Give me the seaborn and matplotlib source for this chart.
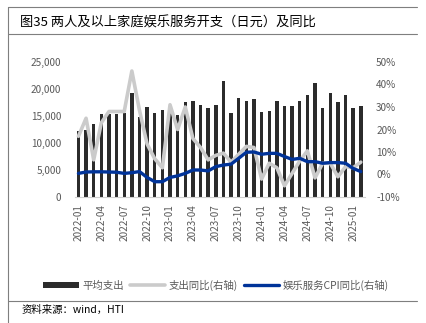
import numpy as np
import pandas as pd
import matplotlib
matplotlib.use("Agg")
import matplotlib.pyplot as plt
import seaborn as sns
from matplotlib.lines import Line2D
from matplotlib.patches import Patch

months = [f"{y}-{m:02d}" for y in (2022, 2023, 2024) for m in range(1, 13)] + ["2025-01", "2025-02"]

spend = [12250, 12500, 13480, 15330, 15450, 15450, 15580, 19270, 14840, 16690,
         15640, 16070, 16000, 15200, 17530, 17780, 17040, 16450, 17040, 21400,
         15620, 18270, 17780, 18090, 15800, 15990, 17780, 16910, 16910, 17780,
         18890, 21050, 16420, 19320, 17650, 18890, 16420, 16910]

spend_yoy = [17, 25, 6.5, 23, 28, 28, 28, 46, 28.5, 13.5,
             7, 3, 31, 20, 30, 16, 12, 6.5, 8.5, 9.5,
             5.5, 9, 12.5, 12, -2, 5, 3, -5, 0.5, 6,
             10.5, -1.5, 5, 5, -1, 3.5, 3, 5.5]

cpi_yoy = [0.5, 1.1, 1.2, 1.2, 1.1, 1.0, 0.5, 0.8, 1.3, -1.3,
           -3.2, -3.2, -1.3, -0.6, 0.5, 2.0, 2.0, 1.6, 3.5, 4.2,
           4.6, 7.2, 9.9, 10.0, 9.0, 9.4, 9.4, 8.0, 6.7, 7.2,
           5.7, 5.7, 5.0, 5.3, 5.3, 5.0, 2.7, 1.3]

legend_labels = ["平均支出", "支出同比(右轴)", "娱乐服务CPI同比(右轴)"]
title = "图35 两人及以上家庭娱乐服务开支（日元）及同比"
source = "资料来源：wind，HTI"

sns.set_theme(style="white")
plt.rcParams["font.family"] = ["Noto Sans CJK SC", "DejaVu Sans"]

df = pd.DataFrame({"month": months, "spend": spend,
                   "spend_yoy": spend_yoy, "cpi_yoy": cpi_yoy})
df["pos"] = np.arange(len(df))

W, H = 427, 323
fig = plt.figure(figsize=(W / 100, H / 100), dpi=100)
ax = fig.add_axes([75 / W, 1 - 197 / H, (365 - 75) / W, (197 - 62) / H])

bar_color = "#2b2b2b"
grey_color = "#cbcbcb"
blue_color = "#003399"
tick_color = "#595959"

sns.barplot(data=df, x="month", y="spend", ax=ax, color=bar_color, width=0.45,
            saturation=1, linewidth=0)
ax.set_ylim(0, 25000)
ax.set_yticks(range(0, 25001, 5000))
ax.set_yticklabels([f"{v:,}" for v in range(0, 25001, 5000)], color=tick_color, fontsize=7.2)
ax.set_xlim(-0.45, len(df) - 0.45)
ax.set_xticks(df["pos"][::3])
ax.set_xticklabels(df["month"][::3], rotation=90, color=tick_color, fontsize=7.2)
ax.set_xlabel("")
ax.set_ylabel("")
ax.tick_params(axis="x", length=3, width=0.6, color="#d0d0d0", pad=2)
ax.tick_params(axis="y", length=0, pad=10)
for s in ["left", "right", "top"]:
    ax.spines[s].set_visible(False)
ax.spines["bottom"].set_color("#d0d0d0")
ax.spines["bottom"].set_linewidth(0.8)

ax2 = ax.twinx()
sns.lineplot(data=df, x="pos", y="spend_yoy", ax=ax2, color=grey_color, linewidth=2.6,
             solid_joinstyle="round", solid_capstyle="round")
sns.lineplot(data=df, x="pos", y="cpi_yoy", ax=ax2, color=blue_color, linewidth=2.4,
             solid_joinstyle="round", solid_capstyle="round")
ax2.set_ylim(-10, 50)
ax2.set_yticks(range(-10, 51, 10))
ax2.set_yticklabels([f"{v}%" for v in range(-10, 51, 10)], color=tick_color, fontsize=7.2)
ax2.tick_params(axis="y", length=0, pad=8)
ax2.set_ylabel("")
ax2.set_xlabel("")
for s in ["left", "right", "top", "bottom"]:
    ax2.spines[s].set_visible(False)
ax2.set_xlim(-0.45, len(df) - 0.45)

handles = [Patch(facecolor=bar_color, edgecolor="none"),
           Line2D([0], [0], color=grey_color, lw=2.6),
           Line2D([0], [0], color=blue_color, lw=2.4)]
fig.legend(handles, legend_labels, loc="center", bbox_to_anchor=(216 / W, 1 - 285 / H),
           ncol=3, frameon=False, fontsize=7.5, handlelength=3.4, handleheight=0.5,
           columnspacing=0.6, handletextpad=0.3, labelcolor=tick_color)

# decorative frame lines
line_c = "#7f7f7f"
fig.add_artist(Line2D([8 / W, 417 / W], [1 - 7 / H, 1 - 7 / H], color=line_c, lw=0.8))
fig.add_artist(Line2D([8 / W, 417 / W], [1 - 34 / H, 1 - 34 / H], color=line_c, lw=0.8))
fig.add_artist(Line2D([8 / W, 417 / W], [1 - 301 / H, 1 - 301 / H], color=line_c, lw=0.8))
fig.add_artist(Line2D([8 / W, 8 / W], [0, 1 - 7 / H], color=line_c, lw=0.8))

fig.text(20 / W, 1 - 23 / H, title, fontsize=9.5, fontweight="normal", va="center", ha="left",
         color="#000000")
fig.text(22 / W, 1 - 310 / H, source, fontsize=7.5, va="center", ha="left", color="#000000")

fig.savefig("out.png", dpi=100)
